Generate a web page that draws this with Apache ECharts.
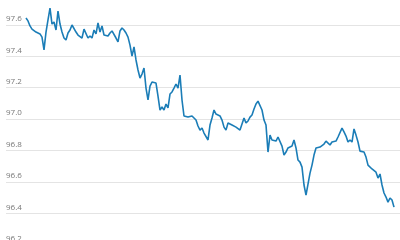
<!DOCTYPE html>
<html>
<head>
<meta charset="utf-8">
<script src="https://cdn.jsdelivr.net/npm/echarts@6/dist/echarts.min.js"></script>
<style>html,body{margin:0;padding:0;background:#fff}#c{width:400px;height:240px}</style>
</head>
<body>
<div id="c"></div>
<script>
const values = [
  97.645, 97.626, 97.594, 97.574, 97.581, 97.555, 97.549, 97.543, 97.523, 97.441,
  97.555, 97.632, 97.708, 97.606, 97.619, 97.568, 97.689, 97.606, 97.555, 97.517,
  97.504, 97.549, 97.568, 97.600, 97.606, 97.555, 97.536, 97.543, 97.517, 97.574,
  97.568, 97.517, 97.530, 97.517, 97.568, 97.543, 97.613, 97.555, 97.594, 97.536,
  97.536, 97.530, 97.549, 97.562, 97.568, 97.517, 97.492, 97.562, 97.581, 97.568,
  97.549, 97.523, 97.472, 97.402, 97.460, 97.377, 97.313, 97.262, 97.287, 97.326,
  97.198, 97.122, 97.211, 97.236, 97.224, 97.230, 97.147, 97.058, 97.077, 97.058,
  97.096, 97.071, 97.160, 97.173, 97.198, 97.224, 97.198, 97.281, 97.122, 97.020,
  97.032, 97.013, 97.013, 97.020, 97.007, 96.994, 96.956, 96.930, 96.943, 96.911,
  96.905, 96.867, 96.962, 97.007, 97.058, 97.032, 97.020, 97.020, 96.994, 96.949,
  96.930, 96.975, 96.975, 96.962, 96.962, 96.949, 96.943, 96.930, 96.969, 97.007,
  96.975, 96.988, 97.013, 97.026, 97.064, 97.096, 97.115, 97.122, 97.058, 96.994,
  96.962, 96.790, 96.898, 96.867, 96.879, 96.860, 96.886, 96.879, 96.828, 96.771,
  96.790, 96.816, 96.822, 96.828, 96.867, 96.816, 96.739, 96.726, 96.694, 96.580,
  96.516, 96.586, 96.656, 96.707, 96.771, 96.816, 96.822, 96.822, 96.822, 96.841,
  96.860, 96.867, 96.835, 96.854, 96.847, 96.860, 96.886, 96.892, 96.943, 96.918,
  96.892, 96.854, 96.867, 96.854, 96.937, 96.898, 96.854, 96.796, 96.796, 96.790,
  96.758, 96.707, 96.701, 96.682, 96.675, 96.662, 96.624, 96.650, 96.580, 96.529,
  96.503, 96.471, 96.497, 96.484, 96.439
];
const yMin = 96.2, yMax = 97.6, yStep = 0.2;
const seriesData = values.map((v, i) => [i, v]);

const chart = echarts.init(document.getElementById('c'), null, {renderer: 'canvas'});
chart.setOption({
  animation: false,
  backgroundColor: '#fff',
  grid: {left: 6, top: 25, width: 394, height: 219.6, containLabel: false, outerBoundsMode: 'none'},
  xAxis: {
    type: 'value', min: -10, max: values.length + 2,
    show: false
  },
  yAxis: {
    type: 'value', min: yMin, max: yMax, interval: yStep,
    axisLine: {show: false}, axisTick: {show: false},
    splitLine: {lineStyle: {color: '#e4e4e4', width: 1}},
    axisLabel: {
      inside: true, margin: 0, align: 'left', verticalAlign: 'bottom',
      padding: [0, 0, 2, 0],
      color: '#777', fontSize: 8, fontFamily: 'Open Sans',
      formatter: v => v.toFixed(1)
    }
  },
  series: [{
    type: 'line', data: seriesData, symbol: 'none', clip: false,
    lineStyle: {color: '#1b7db7', width: 1.6},
    z: 3
  }]
});
</script>
</body>
</html>
